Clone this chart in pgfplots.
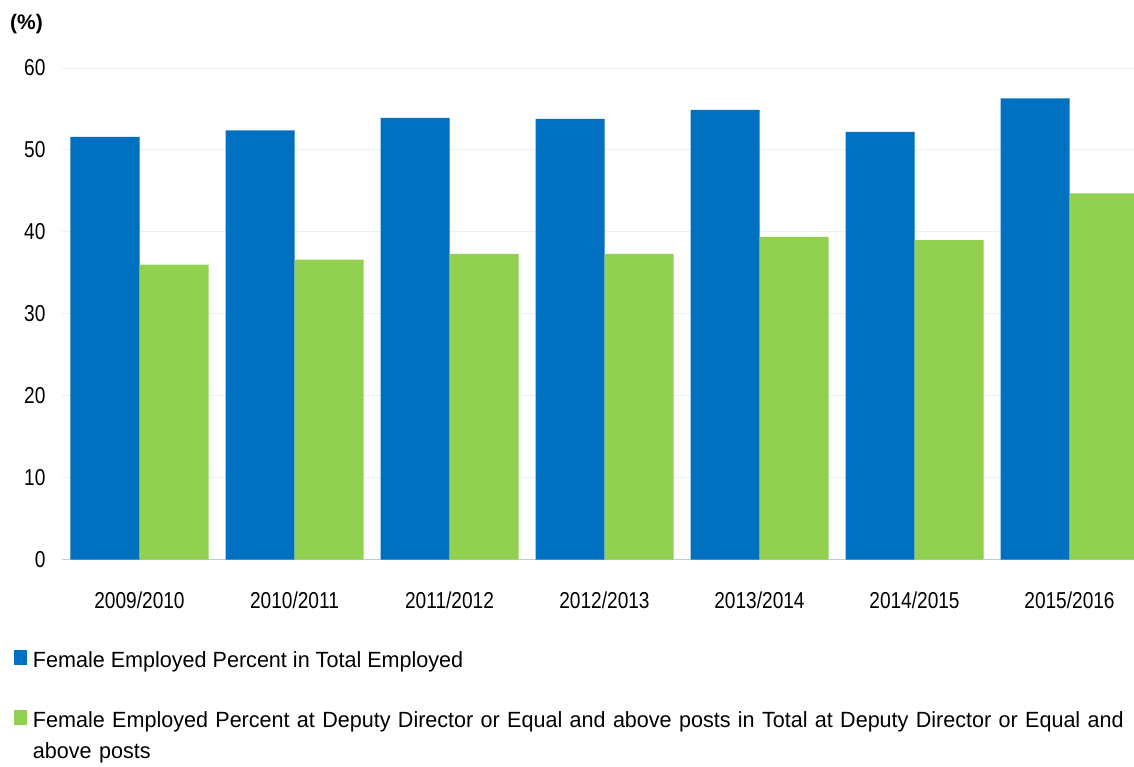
\documentclass[border=0pt]{standalone}
\usepackage{pgfplots}
\pgfplotsset{compat=1.18}
\usepackage{fontspec}
\setmainfont{Liberation Sans}
\newfontfamily\narrowfont{Liberation Sans}[FakeStretch=0.83]
\newfontfamily\legfont{Liberation Sans}[FakeStretch=0.98]
\definecolor{cblue}{RGB}{0,112,192}
\definecolor{cgreen}{RGB}{146,208,80}
\definecolor{cgrid}{RGB}{232,241,249}
\definecolor{caxis}{RGB}{175,208,232}
\begin{document}
\begin{tikzpicture}[x=1pt,y=1pt]
\useasboundingbox (-62,-206.5) rectangle (1072,559.5);
\begin{axis}[
  scale only axis,
  width=1072pt, height=491.5pt,
  xmin=-0.5, xmax=6.416,
  ymin=0, ymax=60,
  ytick={0,10,...,60},
  xtick={0,...,6},
  xticklabels={2009/2010,2010/2011,2011/2012,2012/2013,2013/2014,2014/2015,2015/2016},
  major tick length=0pt,
  ymajorgrids, major grid style={cgrid, line width=1pt},
  axis x line*=bottom, axis y line*=left,
  x axis line style={caxis, line width=1pt, -},
  y axis line style={draw=none},
  tick label style={font=\narrowfont\fontsize{23}{27}\selectfont},
  /pgf/number format/assume math mode=true,
  yticklabel style={xshift=-13pt},
  xticklabel style={yshift=-29pt},
  ybar=0pt, bar width=69pt,
  clip=true,
  legend style={draw=none, fill=none, at={(-0.0448,-0.184)}, anchor=north west,
    inner sep=0pt, outer sep=0pt,
    font=\legfont\fontsize{22}{31}\selectfont, row sep=41pt,
    nodes={inner sep=0pt, outer sep=0pt}},
  legend cell align=left,
  legend image code/.code={\fill[#1] (0pt,-4.5pt) rectangle (13pt,10.5pt); \path (0pt,0pt) -- (19pt,0pt);},
]
\addplot[fill=cblue, draw=none] coordinates {(0,51.6) (1,52.4) (2,53.9) (3,53.8) (4,54.9) (5,52.2) (6,56.3)};
\addplot[fill=cgreen, draw=none] coordinates {(0,36.0) (1,36.6) (2,37.3) (3,37.3) (4,39.4) (5,39.0) (6,44.7)};
\addlegendentry{Female Employed Percent in Total Employed}
\addlegendentry[text width=1100pt, align=left]{Female Employed Percent at Deputy Director or Equal and above posts in Total at Deputy Director or Equal and above posts}
\end{axis}
\node[anchor=west, inner sep=0pt, font=\fontsize{21}{24}\selectfont\bfseries] at (-52,535.5) {(\%)};
\end{tikzpicture}
\end{document}
